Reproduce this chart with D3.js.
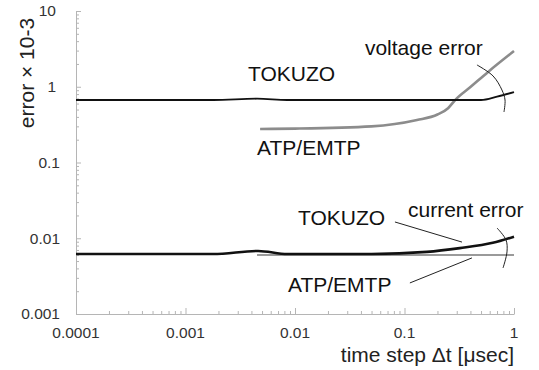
<!DOCTYPE html>
<html>
<head>
<meta charset="utf-8">
<script src="https://cdn.jsdelivr.net/npm/d3@7"></script>
<style>
  body { margin: 0; background: #fff; }
  svg { display: block; font-family: "Liberation Sans", Arial, sans-serif; }
</style>
</head>
<body>
<svg id="chart" width="539" height="370"></svg>
<script>
// time step [usec] and error x 10^-3
var tokuzoVoltage = [[0.0001,0.668],[0.001,0.668],[0.0018,0.668],[0.0045,0.695],[0.0085,0.668],[0.1,0.668],[0.5,0.668],[0.7,0.74],[1,0.85]];
var atpVoltage = [[0.0048,0.277],[0.01,0.28],[0.05,0.30],[0.13,0.364],[0.2,0.43],[0.25,0.52],[0.29,0.668],[0.4,0.99],[0.58,1.57],[1,2.96]];
var tokuzoCurrent = [[0.0001,0.0062],[0.0018,0.0062],[0.0046,0.0068],[0.0085,0.0062],[0.05,0.0062],[0.16,0.0066],[0.32,0.0074],[0.64,0.0087],[1,0.0105]];
var atpCurrent = [[0.0045,0.0060],[0.01,0.0060],[0.1,0.0060],[1,0.0060]];

var xTicks = [0.0001, 0.001, 0.01, 0.1, 1];
var xTickLabels = ["0.0001", "0.001", "0.01", "0.1", "1"];
var yTicks = [0.001, 0.01, 0.1, 1, 10];
var yTickLabels = ["0.001", "0.01", "0.1", "1", "10"];

// annotations (data units)
var labels = [
    {text: "TOKUZO", x: 0.00372, y: 1.19},
    {text: "ATP/EMTP", x: 0.0045, y: 0.1256},
    {text: "voltage error", x: 0.0435, y: 2.62},
    {text: "TOKUZO", x: 0.01064, y: 0.01496},
    {text: "current error", x: 0.1076, y: 0.01907},
    {text: "ATP/EMTP", x: 0.00863, y: 0.00195}
];
var leaders = [
    [[0.459,1.94],[0.643,1.39],[0.776,0.906],[0.828,0.668],[0.81,0.464]],
    [[0.70,0.01365],[0.845,0.0095],[0.863,0.0066],[0.794,0.00405]],
    [[0.0818,0.0164],[0.335,0.0089]],
    [[0.112,0.00257],[0.413,0.0055]]
];

var svg = d3.select("#chart");
var x = d3.scaleLog().domain([0.0001, 1]).range([76, 514]);
var y = d3.scaleLog().domain([0.001, 10]).range([314, 11]);

var axisColor = "#b5b5b5";

// minor + major ticks, pointing inward
var xAll = x.ticks();
var yAll = y.ticks();
function isMajor(v) { return Math.abs(Math.log10(v) - Math.round(Math.log10(v))) < 1e-6; }

var xAxis = svg.append("g").attr("transform", "translate(0," + y(0.001) + ")")
    .call(d3.axisBottom(x).tickValues(xAll).tickFormat("").tickSizeOuter(0).tickSizeInner(-3));
xAxis.selectAll(".tick line").attr("y2", function(d) { return isMajor(d) ? -6 : -3; });
xAxis.select(".domain").attr("stroke", axisColor);
xAxis.selectAll(".tick line").attr("stroke", axisColor);

var yAxis = svg.append("g").attr("transform", "translate(" + x(0.0001) + ",0)")
    .call(d3.axisLeft(y).tickValues(yAll).tickFormat("").tickSizeOuter(0).tickSizeInner(-3));
yAxis.selectAll(".tick line").attr("x2", function(d) { return isMajor(d) ? 5 : 3; });
yAxis.select(".domain").attr("stroke", axisColor);
yAxis.selectAll(".tick line").attr("stroke", axisColor);

// tick labels
svg.append("g").selectAll("text")
    .data(xTicks)
    .enter().append("text")
    .attr("x", function(d) { return x(d); })
    .attr("y", 338)
    .attr("text-anchor", "middle")
    .attr("font-size", 15.5)
    .attr("fill", "#333")
    .text(function(d, i) { return xTickLabels[i]; });

svg.append("g").selectAll("text")
    .data(yTicks)
    .enter().append("text")
    .attr("x", function(d) { return d >= 1 ? 56 : 60; })
    .attr("y", function(d) { return y(d); })
    .attr("dy", "0.35em")
    .attr("text-anchor", "end")
    .attr("font-size", 15.5)
    .attr("fill", "#333")
    .text(function(d, i) { return yTickLabels[i]; });

// axis titles
svg.append("text")
    .attr("x", 514).attr("y", 362)
    .attr("text-anchor", "end")
    .attr("font-size", 21)
    .attr("fill", "#222")
    .text("time step \u0394t [\u03bcsec]");

svg.append("text")
    .attr("transform", "translate(34,73) rotate(-90)")
    .attr("text-anchor", "middle")
    .attr("font-size", 21)
    .attr("fill", "#222")
    .text("error \u00d7 10-3");

// series
var line = d3.line()
    .x(function(d) { return x(d[0]); })
    .y(function(d) { return y(d[1]); })
    .curve(d3.curveMonotoneX);

svg.append("path").datum(atpVoltage).attr("d", line)
    .attr("fill", "none").attr("stroke", "#8c8c8c").attr("stroke-width", 2.6);
svg.append("path").datum(tokuzoVoltage).attr("d", line)
    .attr("fill", "none").attr("stroke", "#111").attr("stroke-width", 1.8);
svg.append("path").datum(atpCurrent).attr("d", line)
    .attr("fill", "none").attr("stroke", "#9a9a9a").attr("stroke-width", 2);
svg.append("path").datum(tokuzoCurrent).attr("d", line)
    .attr("fill", "none").attr("stroke", "#111").attr("stroke-width", 2.6);

// leader lines
var leader = d3.line()
    .x(function(d) { return x(d[0]); })
    .y(function(d) { return y(d[1]); })
    .curve(d3.curveCatmullRom);

svg.append("g").selectAll("path")
    .data(leaders)
    .enter().append("path")
    .attr("d", leader)
    .attr("fill", "none")
    .attr("stroke", "#222")
    .attr("stroke-width", 1);

svg.append("g").selectAll("text")
    .data(labels)
    .enter().append("text")
    .attr("x", function(d) { return x(d.x); })
    .attr("y", function(d) { return y(d.y); })
    .attr("font-size", 21)
    .attr("fill", "#111")
    .text(function(d) { return d.text; });
</script>
</body>
</html>
